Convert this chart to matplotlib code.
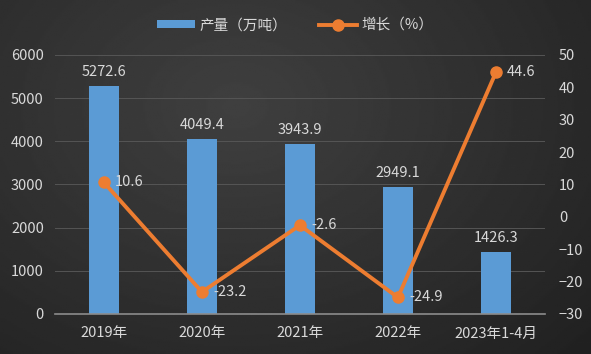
import matplotlib
matplotlib.use('Agg')
import matplotlib.pyplot as plt
import numpy as np

plt.rcParams['font.family'] = ['Noto Sans CJK SC', 'DejaVu Sans']

categories = ['2019年', '2020年', '2021年', '2022年', '2023年1-4月']
output = [5272.6, 4049.4, 3943.9, 2949.1, 1426.3]   # 产量（万吨）
growth = [10.6, -23.2, -2.6, -24.9, 44.6]            # 增长（%）

txt = '#d9d9d9'
blue = '#5b9bd5'
orange = '#ed7d31'

fig = plt.figure(figsize=(5.91, 3.54), dpi=100)

# dark gradient background
bg = fig.add_axes([0, 0, 1, 1], zorder=-10)
yy, xx = np.mgrid[0:1:200j, 0:1:300j]
r = np.sqrt((xx - 0.4) ** 2 + ((yy - 0.3) * 0.8) ** 2)
bg.imshow(0.25 - 0.15 * r, cmap='gray', vmin=0, vmax=1, aspect='auto', extent=[0, 1, 0, 1])
bg.axis('off')

ax = fig.add_axes([0.093, 0.113, 0.829, 0.732])
ax.patch.set_alpha(0)
x = np.arange(len(categories))
bars = ax.bar(x, output, width=0.31, color=blue, label='产量（万吨）', zorder=2)
ax.set_ylim(0, 6000)
ax.set_yticks(range(0, 6001, 1000))
ax.set_xlim(-0.5, len(categories) - 0.5)
ax.set_xticks(x)
ax.set_xticklabels(categories)
ax.grid(axis='y', color='#555555', linewidth=0.7, zorder=0)
for s in ['top', 'right', 'left']:
    ax.spines[s].set_visible(False)
ax.spines['bottom'].set_color('#8c8c8c')
ax.spines['bottom'].set_linewidth(1.2)
ax.tick_params(colors=txt, labelsize=10.5, length=0)
ax.tick_params(axis='x', pad=9)
ax.tick_params(axis='y', pad=8)

for b, v in zip(bars, output):
    ax.annotate(f'{v}', xy=(b.get_x() + b.get_width() / 2, v), xytext=(0, 5),
                textcoords='offset points', ha='center', va='bottom', color=txt, fontsize=10.5)

ax2 = ax.twinx()
ax2.patch.set_alpha(0)
line, = ax2.plot(x, growth, color=orange, linewidth=2.8, marker='o', markersize=8,
                 label='增长（%）', zorder=3)
ax2.set_ylim(-30, 50)
ax2.set_yticks(range(-30, 51, 10))
for s in ax2.spines.values():
    s.set_visible(False)
ax2.tick_params(colors=txt, labelsize=10.5, length=0, pad=10)

for xi, v in zip(x, growth):
    ax2.annotate(f'{v}', xy=(xi, v), xytext=(8, 0), textcoords='offset points',
                 ha='left', va='center', color=txt, fontsize=10.5)

fig.legend(handles=[bars, line], labels=['产量（万吨）', '增长（%）'], loc='upper center',
           bbox_to_anchor=(0.5, 0.985), ncol=2, frameon=False, fontsize=10.5,
           labelcolor=txt, handlelength=2.6, handleheight=0.5, columnspacing=2.2,
           handletextpad=0.3)

fig.savefig('out.png', dpi=100)
